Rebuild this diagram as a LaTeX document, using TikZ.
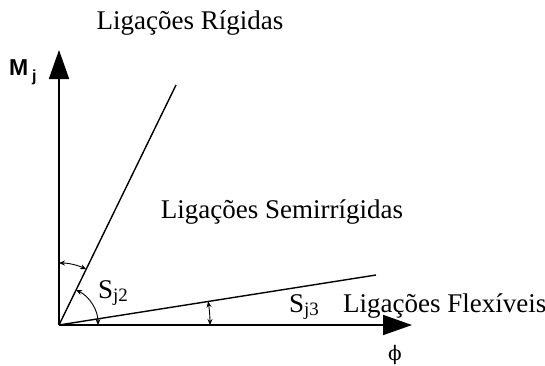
\documentclass[tikz,border=0pt]{standalone}
\usepackage{fontspec}
\setmainfont{Liberation Serif}
\setsansfont{Liberation Sans}
\newfontfamily\phifont{DejaVu Serif}
\usetikzlibrary{arrows.meta, calc}

\begin{document}
\begin{tikzpicture}[x=1pt, y=1pt,
    axis/.style={line width=1.8pt, -{Triangle[length=29pt, width=20pt]}},
    stiff/.style={line width=1.4pt},
    angarc/.style={line width=0.9pt, {Stealth[length=6pt, width=5pt]}-{Stealth[length=6pt, width=5pt]}},
    lbl/.style={font=\fontsize{27}{30}\selectfont, inner sep=0pt}]

    \useasboundingbox (0,0) rectangle (545,365);

    % Origin and end points of the lines
    \coordinate (origin) at (59, 40);
    \coordinate (mtip) at (59, 315);
    \coordinate (phitip) at (412, 40);
    \coordinate (rigid) at (176, 280);
    \coordinate (flex) at (376, 90);

    % Axes
    \draw[axis] (origin) -- (mtip);
    \draw[axis] (origin) -- (phitip);
    \node[anchor=base west, inner sep=0pt, font=\sffamily\bfseries\fontsize{23}{26}\selectfont] (lblM) at (9, 290) {M\,{\fontsize{16}{18}\selectfont\raisebox{-6pt}{j}}};
    \node[inner sep=0pt, font=\phifont\fontsize{20}{24}\selectfont] (lblPhi) at (395, 10) {ϕ};

    % Stiffness lines
    \draw[stiff] (origin) -- (rigid);
    \draw[stiff] (origin) -- (flex);

    % Angles
    \draw[angarc] ($(origin)+(90:62)$) arc (90:64:62);
    \draw[angarc] ($(origin)+(64:39)$) arc (64:0:39);
    \draw[angarc] ($(origin)+(9:151)$) arc (9:0:151);

    % Labels
    \node[lbl] (lblRigid) at (190, 342) {Ligações Rígidas};
    \node[lbl] (lblSemi) at (282, 153) {Ligações Semirrígidas};
    \node[lbl, anchor=base west] (lblFlex) at (343, 53) {Ligações Flexíveis};
    \node[lbl, anchor=base west] (lblSj2) at (98, 67) {S\textsubscript{j2}};
    \node[lbl, anchor=base west] (lblSj3) at (289, 53) {S\textsubscript{j3}};

\end{tikzpicture}
\end{document}
